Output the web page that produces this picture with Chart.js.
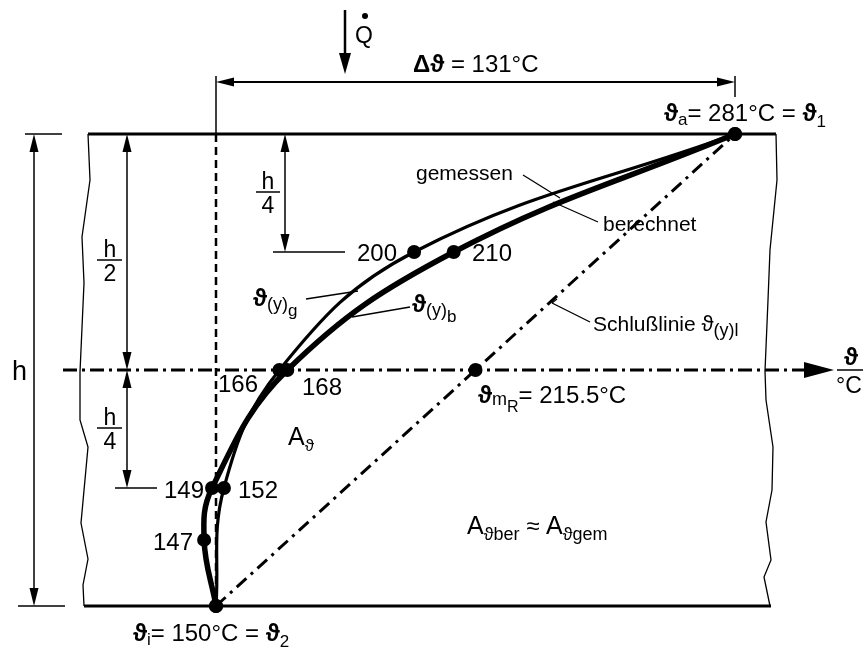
<!DOCTYPE html>
<html>
<head>
<meta charset="utf-8">
<script src="https://cdn.jsdelivr.net/npm/chart.js@4/dist/chart.umd.min.js"></script>
<style>
  body { margin:0; background:#fff; }
  #wrap { width:864px; height:649px; }
</style>
</head>
<body>
<div id="wrap"><canvas id="c" width="864" height="649"></canvas></div>
<script>
// temperatures in °C, levels as fraction of wall height h (0 = inside, 1 = outside)
const tempsCalc = [281, 210, 168, 149, 147, 150];
const levelsCalc = [1, 0.75, 0.5, 0.25, 0.14, 0];
const tempsMeas = [281, 200, 166, 152, 150];
const levelsMeas = [1, 0.75, 0.5, 0.25, 0];
const tempsChord = [150, 215.5, 281];
const levelsChord = [0, 0.5, 1];

const FONT = '"Liberation Sans", Arial, "DejaVu Sans", sans-serif';
const pxPerDeg = 519 / 131;
const xMin = 150 - 216 / pxPerDeg, xMax = xMin + 864 / pxPerDeg;
const yMin = -(649 - 606) / 472, yMax = 1 + 134 / 472;

const pts = (xs, ys) => xs.map((x, i) => ({x, y: ys[i]}));

function arrowHead(ctx, x1, y1, x2, y2, len, half){
  const a = Math.atan2(y2 - y1, x2 - x1);
  ctx.beginPath();
  ctx.moveTo(x2, y2);
  ctx.lineTo(x2 - len*Math.cos(a) + half*Math.sin(a), y2 - len*Math.sin(a) - half*Math.cos(a));
  ctx.lineTo(x2 - len*Math.cos(a) - half*Math.sin(a), y2 - len*Math.sin(a) + half*Math.cos(a));
  ctx.closePath(); ctx.fill();
}
function line(ctx, x1, y1, x2, y2, w, dash){
  ctx.save(); ctx.lineWidth = w; ctx.setLineDash(dash || []);
  ctx.beginPath(); ctx.moveTo(x1, y1); ctx.lineTo(x2, y2); ctx.stroke(); ctx.restore();
}
function poly(ctx, p, w){
  ctx.save(); ctx.lineWidth = w; ctx.beginPath(); ctx.moveTo(p[0][0], p[0][1]);
  p.slice(1).forEach(q => ctx.lineTo(q[0], q[1])); ctx.stroke(); ctx.restore();
}
// parts: [text, size, dy, weight]
function rich(ctx, parts, x, y, align){
  let total = 0;
  parts.forEach(p => { ctx.font = `${p[3]||'normal'} ${p[1]}px ${FONT}`; total += ctx.measureText(p[0]).width; });
  let cx = align === 'right' ? x - total : align === 'center' ? x - total/2 : x;
  ctx.textBaseline = 'alphabetic'; ctx.textAlign = 'left';
  parts.forEach(p => { ctx.font = `${p[3]||'normal'} ${p[1]}px ${FONT}`; ctx.fillText(p[0], cx, y + (p[2]||0)); cx += ctx.measureText(p[0]).width; });
}
function frac(ctx, top, bot, cx, barY, x1, x2){
  rich(ctx, [[top, 23]], cx, barY - 3, 'center');
  line(ctx, x1, barY, x2, barY, 1.5);
  rich(ctx, [[bot, 23]], cx, barY + 21, 'center');
}

const decor = {
  id: 'decor',
  afterDatasetsDraw(chart){
    const ctx = chart.ctx, sx = chart.scales.x, sy = chart.scales.y;
    const X = v => sx.getPixelForValue(v), Y = v => sy.getPixelForValue(v);
    const x0 = X(150), x1 = X(281), yTop = Y(1), yBot = Y(0), yMid = Y(0.5);
    ctx.save();
    ctx.strokeStyle = '#000'; ctx.fillStyle = '#000';

    // wall faces and break lines
    line(ctx, 88, yTop, 776, yTop, 3);
    line(ctx, 84, yBot, 771, yBot, 3);
    poly(ctx, [[88,yTop],[90,180],[82,237],[84,283],[80,372],[80,420],[88,447],[81,523],[88,559],[83,585],[84,yBot]], 1.3);
    poly(ctx, [[776,yTop],[777,180],[770,250],[768,300],[765,371],[766,400],[773,447],[772,490],[766,522],[771,560],[764,577],[770,yBot]], 1.3);

    // inside-face reference line
    line(ctx, x0, 76, x0, yTop, 1.5);
    line(ctx, x0, yTop, x0, yBot, 2.5, [8, 5]);
    line(ctx, x1, 76, x1, 97, 1.5);

    // delta theta dimension
    line(ctx, x0 + 10, 82, x1 - 10, 82, 1.8);
    arrowHead(ctx, x1, 82, x0, 82, 18, 4.5);
    arrowHead(ctx, x0, 82, x1, 82, 18, 4.5);
    rich(ctx, [['Δϑ', 24, 0, 'bold'], [' = 131°C', 24]], 413, 72);

    // heat flow arrow
    line(ctx, 345, 10, 345, 60, 2.5);
    arrowHead(ctx, 345, 10, 345, 74, 21, 6);
    rich(ctx, [['Q', 23]], 355, 43);
    ctx.beginPath(); ctx.arc(365, 16, 3, 0, Math.PI*2); ctx.fill();

    // height dimension h
    line(ctx, 25, yTop, 62, yTop, 1.5);
    line(ctx, 18, yBot, 65, yBot, 1.5);
    line(ctx, 34, yTop + 10, 34, yBot - 10, 1.5);
    arrowHead(ctx, 34, yBot, 34, yTop, 18, 4.5);
    arrowHead(ctx, 34, yTop, 34, yBot, 18, 4.5);
    rich(ctx, [['h', 27]], 12, 380);

    // h/2 and h/4
    const xh = 127, yQ = Y(0.25), yQ3 = Y(0.75);
    line(ctx, xh, yTop + 10, xh, yMid - 10, 1.5);
    arrowHead(ctx, xh, yMid, xh, yTop, 18, 4.5);
    arrowHead(ctx, xh, yTop, xh, yMid, 18, 4.5);
    line(ctx, xh, yMid + 10, xh, yQ - 10, 1.5);
    arrowHead(ctx, xh, yQ, xh, yMid, 18, 4.5);
    arrowHead(ctx, xh, yMid, xh, yQ, 18, 4.5);
    line(ctx, 115, yQ, 157, yQ, 1.5);
    frac(ctx, 'h', '2', 110, 260, 97, 122);
    frac(ctx, 'h', '4', 110, 428, 97, 122);

    const xu = 285;
    line(ctx, xu, yTop + 10, xu, yQ3 - 10, 1.5);
    arrowHead(ctx, xu, yQ3, xu, yTop, 18, 4.5);
    arrowHead(ctx, xu, yTop, xu, yQ3, 18, 4.5);
    line(ctx, 273, yQ3, 345, yQ3, 1.5);
    frac(ctx, 'h', '4', 268, 192, 256, 280);

    // temperature axis at mid-plane
    line(ctx, 63, yMid, 806, yMid, 3, [14, 5, 3, 5]);
    arrowHead(ctx, 780, yMid, 834, yMid, 30, 8);
    rich(ctx, [['ϑ', 24, 0, 'bold']], 851, 365, 'center');
    line(ctx, 837, yMid, 863, yMid, 1.5);
    rich(ctx, [['°C', 23]], 849, 393, 'center');

    // value labels
    rich(ctx, [['200', 24]], 397, 261, 'right');
    rich(ctx, [['210', 24]], 472, 261);
    rich(ctx, [['166', 24]], 218, 392);
    rich(ctx, [['168', 24]], 302, 395);
    rich(ctx, [['149', 24]], 204, 498, 'right');
    rich(ctx, [['152', 24]], 238, 498);
    rich(ctx, [['147', 24]], 193, 550, 'right');

    rich(ctx, [['ϑ', 24, 0, 'bold'], ['a', 17, 4], ['= 281°C = ', 24], ['ϑ', 24, 0, 'bold'], ['1', 17, 6]], 664, 121);
    rich(ctx, [['ϑ', 24, 0, 'bold'], ['i', 17, 4], ['= 150°C = ', 24], ['ϑ', 24, 0, 'bold'], ['2', 17, 6]], 133, 641);
    rich(ctx, [['ϑ', 24, 0, 'bold'], ['m', 18, 2], ['R', 16, 9], ['= 215.5°C', 24]], 478, 403);

    // curve legends with leader lines
    rich(ctx, [['gemessen', 21]], 416, 180);
    line(ctx, 523, 175, 560, 198, 1.3);
    rich(ctx, [['berechnet', 21]], 603, 231);
    line(ctx, 598, 222, 553, 202, 1.3);
    rich(ctx, [['ϑ', 24, 0, 'bold'], ['(y)', 18, 4], ['g', 17, 10]], 253, 306);
    line(ctx, 306, 299, 358, 291, 1.3);
    rich(ctx, [['ϑ', 24, 0, 'bold'], ['(y)', 18, 4], ['b', 17, 10]], 412, 312);
    line(ctx, 410, 307, 352, 317, 1.3);
    rich(ctx, [['Schlußlinie ', 21], ['ϑ', 22], ['(y)l', 18, 5]], 593, 331);
    line(ctx, 590, 322, 552, 303, 1.3);
    line(ctx, 552, 303, 557, 299, 1.3);

    // areas
    rich(ctx, [['A', 25], ['ϑ', 17, 6]], 288, 445);
    rich(ctx, [['A', 25], ['ϑber', 18, 6], [' ≈ ', 24], ['A', 25], ['ϑgem', 18, 6]], 467, 534);
    ctx.restore();
  }
};

new Chart(document.getElementById('c'), {
  type: 'line',
  data: {
    datasets: [
      { label: 'Schlußlinie', data: pts(tempsChord, levelsChord), borderColor: '#000', borderWidth: 3,
        borderDash: [13, 6, 3, 6], pointRadius: [0, 7, 0], pointBackgroundColor: '#000', pointBorderWidth: 0, tension: 0 },
      { label: 'gemessen', data: pts(tempsMeas, levelsMeas), borderColor: '#000', borderWidth: 3.2,
        pointRadius: 7, pointBackgroundColor: '#000', pointBorderWidth: 0, tension: 0.4 },
      { label: 'berechnet', data: pts(tempsCalc, levelsCalc), borderColor: '#000', borderWidth: 5.5,
        pointRadius: 7, pointBackgroundColor: '#000', pointBorderWidth: 0, tension: 0.4 }
    ]
  },
  options: {
    responsive: false, animation: false, clip: false,
    layout: { padding: 0, autoPadding: false },
    plugins: { legend: { display: false }, tooltip: { enabled: false } },
    scales: {
      x: { type: 'linear', min: xMin, max: xMax, display: false },
      y: { type: 'linear', min: yMin, max: yMax, display: false }
    }
  },
  plugins: [decor]
});
</script>
</body>
</html>
